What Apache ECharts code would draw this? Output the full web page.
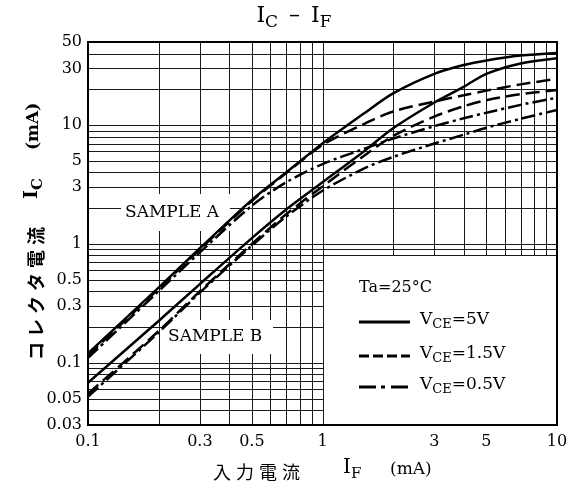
<!DOCTYPE html>
<html>
<head>
<meta charset="utf-8">
<script src="https://cdn.jsdelivr.net/npm/echarts@6/dist/echarts.min.js"></script>
<style>
  html, body { margin: 0; padding: 0; background: #fff; }
  #chart { width: 569px; height: 491px; }
</style>
</head>
<body>
<div id="chart"></div>
<script>
// 入力電流 IF (mA)
const ifValues = [0.1, 0.2, 0.3, 0.5, 0.7, 1, 1.5, 2, 3, 4, 5, 7, 10]

// コレクタ電流 IC (mA)
const sampleA_5V = [0.12, 0.43, 0.92, 2.35, 4.0, 7.0, 12.5, 18.5, 27, 32, 35, 38.5, 40.5]
const sampleA_1_5V = [0.115, 0.42, 0.9, 2.3, 3.95, 6.8, 10.2, 13.0, 15.8, 17.8, 19.5, 22, 24.5]
const sampleA_0_5V = [0.11, 0.4, 0.85, 2.1, 3.3, 4.7, 6.3, 7.7, 9.8, 11.4, 12.7, 14.8, 17.0]
const sampleB_5V = [0.068, 0.225, 0.46, 1.12, 1.95, 3.3, 6.0, 9.4, 15.5, 21, 27, 33, 36.5]
const sampleB_1_5V = [0.055, 0.185, 0.4, 1.0, 1.78, 3.05, 5.5, 8.1, 11.8, 14.4, 16.2, 18.2, 19.7]
const sampleB_0_5V = [0.052, 0.18, 0.39, 0.97, 1.7, 2.8, 4.3, 5.4, 7.0, 8.3, 9.5, 11.3, 13.4]

// 目盛
const xTickLabels = [0.1, 0.3, 0.5, 1, 3, 5, 10]
const yTickLabels = [0.03, 0.05, 0.1, 0.3, 0.5, 1, 3, 5, 10, 30, 50]
const xGridValues = [0.2, 0.3, 0.4, 0.5, 0.6, 0.7, 0.8, 0.9, 1, 2, 3, 4, 5, 6, 7, 8, 9]
const yGridValues = [0.04, 0.05, 0.06, 0.07, 0.08, 0.09, 0.1, 0.2, 0.3, 0.4, 0.5, 0.6, 0.7, 0.8, 0.9,
  1, 2, 3, 4, 5, 6, 7, 8, 9, 10, 20, 30, 40]

const SERIF = '"DejaVu Serif", "Liberation Serif", serif'
const JP = '"Noto Sans CJK JP", sans-serif'
const DASH = [14, 6]
const DASH_DOT = [14, 4, 3, 4]

const curves = [
  { data: sampleA_5V, type: 'solid' },
  { data: sampleA_1_5V, type: DASH },
  { data: sampleA_0_5V, type: DASH_DOT },
  { data: sampleB_5V, type: 'solid' },
  { data: sampleB_1_5V, type: DASH },
  { data: sampleB_0_5V, type: DASH_DOT },
]

const chart = echarts.init(document.getElementById('chart'))

const hiddenAxis = {
  axisLine: { show: false },
  axisTick: { show: false },
  axisLabel: { show: false },
  splitLine: { show: false },
}

chart.setOption({
  animation: false,
  grid: { left: 88, right: 12, top: 42, bottom: 66 },
  xAxis: { type: 'log', logBase: 10, min: 0.1, max: 10, ...hiddenAxis },
  yAxis: { type: 'log', logBase: 10, min: 0.03, max: 50, ...hiddenAxis },
  series: curves.map(c => ({
    type: 'line',
    data: ifValues.map((x, i) => [x, c.data[i]]),
    smooth: 0.3,
    symbol: 'none',
    silent: true,
    z: 3,
    lineStyle: { color: '#000', width: 2.5, type: c.type },
  })),
})

const px = v => chart.convertToPixel({ xAxisIndex: 0 }, v)
const py = v => chart.convertToPixel({ yAxisIndex: 0 }, v)
const crisp = v => Math.round(v) + 0.5

const plotLeft = px(0.1)
const plotRight = px(10)
const plotTop = py(50)
const plotBottom = py(0.03)

// 下付き文字用 rich
function subRich(mainSize, subSize, family, weight, raise) {
  return {
    m: { fontSize: mainSize, fontFamily: family, fontWeight: weight, lineHeight: mainSize, verticalAlign: 'bottom', padding: [0, 0, raise, 0], fill: '#000' },
    s: { fontSize: subSize, fontFamily: family, fontWeight: weight, lineHeight: subSize, verticalAlign: 'bottom', fill: '#000' },
    j: { fontSize: mainSize, fontFamily: JP, fontWeight: weight, lineHeight: mainSize, verticalAlign: 'bottom', padding: [0, 5, raise, 0], fill: '#000' },
  }
}

const g = []

// grid lines
xGridValues.forEach(v => {
  const x = crisp(px(v))
  g.push({ type: 'line', z: 0, silent: true, shape: { x1: x, y1: plotTop, x2: x, y2: plotBottom }, style: { stroke: '#1a1a1a', lineWidth: 1 } })
})
yGridValues.forEach(v => {
  const y = crisp(py(v))
  g.push({ type: 'line', z: 0, silent: true, shape: { x1: plotLeft, y1: y, x2: plotRight, y2: y }, style: { stroke: '#1a1a1a', lineWidth: 1 } })
})

// white patches
const boxX = crisp(px(1)) + 0.5
const boxY = crisp(py(0.8)) + 0.5
g.push({ type: 'rect', z: 1, silent: true, shape: { x: boxX, y: boxY, width: plotRight - boxX, height: plotBottom - boxY }, style: { fill: '#fff' } })
g.push({ type: 'rect', z: 1, silent: true, shape: { x: 121, y: 194, width: 109, height: 37 }, style: { fill: '#fff' } })
g.push({ type: 'rect', z: 1, silent: true, shape: { x: 163, y: 320, width: 110, height: 34 }, style: { fill: '#fff' } })

// frame
g.push({ type: 'rect', z: 5, silent: true, shape: { x: plotLeft, y: plotTop, width: plotRight - plotLeft, height: plotBottom - plotTop }, style: { fill: 'transparent', stroke: '#000', lineWidth: 2 } })

// tick labels
xTickLabels.forEach(v => {
  g.push({ type: 'text', z: 5, silent: true, x: px(v), y: 442, style: { text: String(v), font: '16px ' + SERIF, fill: '#000', align: 'center', verticalAlign: 'middle' } })
})
yTickLabels.forEach(v => {
  g.push({ type: 'text', z: 5, silent: true, x: 82, y: py(v), style: { text: String(v), font: '16px ' + SERIF, fill: '#000', align: 'right', verticalAlign: 'middle' } })
})

// title
g.push({ type: 'text', z: 5, silent: true, x: 294, y: 20, style: { text: '{m|I}{s|C}{m|\u2002\u2013\u2002I}{s|F}', rich: subRich(22, 17, SERIF, 'normal', 4), align: 'center', verticalAlign: 'middle' } })

// x axis name
g.push({ type: 'text', z: 5, silent: true, x: 213, y: 472, style: { text: '{j|入}{j|力}{j|電}{j|流}', rich: subRich(18, 14, SERIF, 'normal', 0), align: 'left', verticalAlign: 'middle' } })
g.push({ type: 'text', z: 5, silent: true, x: 343, y: 472, style: { text: '{m|I}{s|F}', rich: subRich(20, 15, SERIF, 'normal', 4), align: 'left', verticalAlign: 'middle' } })
g.push({ type: 'text', z: 5, silent: true, x: 390, y: 470, style: { text: '(mA)', font: '17px ' + SERIF, fill: '#000', align: 'left', verticalAlign: 'middle' } })

// y axis name (rotated)
g.push({ type: 'text', z: 5, silent: true, x: 36, y: 360, rotation: Math.PI / 2, style: { text: '{j|コ}{j|レ}{j|ク}{j|タ}{j|電}{j|流}', rich: subRich(18, 14, SERIF, 'bold', 0), align: 'left', verticalAlign: 'middle' } })
g.push({ type: 'text', z: 5, silent: true, x: 36, y: 199, rotation: Math.PI / 2, style: { text: '{m|I}{s|C}', rich: subRich(19, 15, SERIF, 'bold', 4), align: 'left', verticalAlign: 'middle' } })
g.push({ type: 'text', z: 5, silent: true, x: 34, y: 150, rotation: Math.PI / 2, style: { text: '(mA)', font: 'bold 17px ' + SERIF, fill: '#000', align: 'left', verticalAlign: 'middle' } })

// sample labels
g.push({ type: 'text', z: 5, silent: true, x: 125, y: 213, style: { text: 'SAMPLE A', font: '17px ' + SERIF, fill: '#000', align: 'left', verticalAlign: 'middle' } })
g.push({ type: 'text', z: 5, silent: true, x: 168, y: 337, style: { text: 'SAMPLE B', font: '17px ' + SERIF, fill: '#000', align: 'left', verticalAlign: 'middle' } })

// legend
g.push({ type: 'text', z: 5, silent: true, x: 359, y: 288, style: { text: 'Ta=25°C', font: '16px ' + SERIF, fill: '#000', align: 'left', verticalAlign: 'middle' } })
const legendRows = [
  { y: 322, dash: null, label: '=5V' },
  { y: 356, dash: [10, 4], label: '=1.5V' },
  { y: 387, dash: [17, 5, 4, 6], label: '=0.5V' },
]
legendRows.forEach(r => {
  g.push({ type: 'line', z: 5, silent: true, shape: { x1: 359, y1: r.y, x2: 410, y2: r.y }, style: { stroke: '#000', lineWidth: 3, lineDash: r.dash } })
  g.push({ type: 'text', z: 5, silent: true, x: 420, y: r.y + 1, style: { text: '{m|V}{s|CE}{m|' + r.label + '}', rich: subRich(17, 13, SERIF, 'normal', 3), align: 'left', verticalAlign: 'middle' } })
})

chart.setOption({ graphic: { elements: g } })

window.addEventListener('resize', () => chart.resize())
</script>
</body>
</html>
